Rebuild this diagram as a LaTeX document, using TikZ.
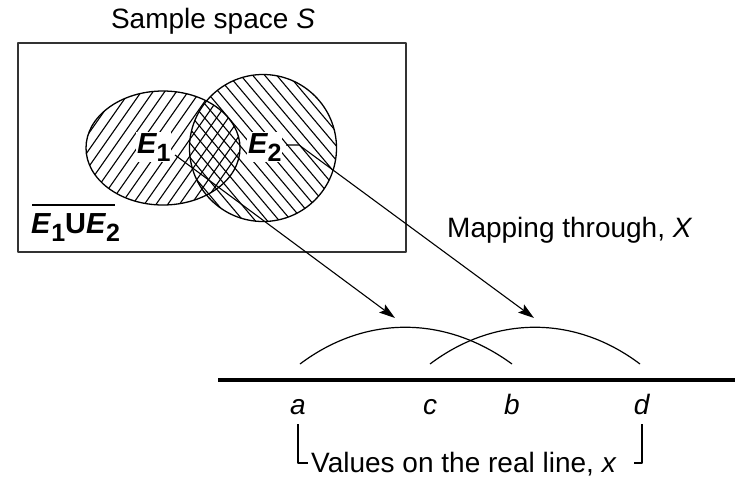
\documentclass[tikz,border=0pt]{standalone}
\usepackage{fontspec}
\setmainfont{Liberation Sans}
\usetikzlibrary{arrows.meta}
\newcommand{\evsub}[1]{\raisebox{-8pt}{\upshape\fontsize{25}{25}\selectfont #1}}
\begin{document}
\begin{tikzpicture}[x=1pt,y=-1pt, line join=round,
  lbl/.style={inner sep=0pt, font=\fontsize{28}{32}\selectfont},
  ev/.style={inner sep=1pt, fill=white, font=\fontsize{29}{32}\selectfont\bfseries\itshape},
  outline/.style={line width=1.3pt},
  hatch/.style={line width=1.1pt},
  maparrow/.style={line width=1.1pt, -{Stealth[length=16pt,width=10pt,inset=3pt]}},
  thin/.style={line width=1.2pt},
  ]
\useasboundingbox (0,0) rectangle (735,488);

% hatching E1
\begin{scope}
  \clip (163,148) ellipse [x radius=77pt, y radius=57pt];
  \foreach \x in {20,31.7,...,310} \draw[hatch] (\x-60,233.7) -- (\x+60,62.3);
\end{scope}
% hatching E2
\begin{scope}
  \clip (263,148) circle [radius=73.5pt];
  \foreach \x in {110,122,...,420} \draw[hatch] (\x-75,59) -- (\x+75,237);
\end{scope}
\draw[outline] (163,148) ellipse [x radius=77pt, y radius=57pt];
\draw[outline] (263,148) circle [radius=73.5pt];

% sample space box
\draw[line width=1.5pt, black!80] (18,43) rectangle (406,252);
\node[lbl, anchor=base] (title) at (213,28) {Sample space \textit{S}};

% event labels
\node[ev, anchor=base west] (e1) at (136,153) {E\evsub{1}};
\node[ev, anchor=base west] (e2) at (247,153) {E\evsub{2}};
\node[inner sep=0pt, anchor=base west, font=\fontsize{29}{32}\selectfont\bfseries] (comp) at (31,233)
  {\textit{E}\evsub{1}U\textit{E}\evsub{2}};
\draw[line width=1.5pt] (32,205) -- (115,205);

% mapping arrows
\coordinate (s1) at (175,155);
\coordinate (t1) at (395,318);
\coordinate (s2) at (286,145);
\coordinate (k2) at (299,145);
\coordinate (t2) at (534,318);
\draw[maparrow] (s1) -- (t1);
\draw[maparrow] (s2) -- (k2) -- (t2);
\node[lbl, anchor=base west] (map) at (447,237) {Mapping through, \textit{X}};

% real line
\coordinate (rl) at (218,380);
\coordinate (rr) at (735,380);
\draw[line width=4pt] (rl) -- (rr);

% arcs
\coordinate (a0) at (300,364);
\coordinate (b0) at (512,364);
\coordinate (c0) at (430,364);
\coordinate (d0) at (640,364);
\draw[thin] (a0) .. controls (365,315) and (445,315) .. (b0);
\draw[thin] (c0) .. controls (495,315) and (575,315) .. (d0);

% point labels
\node[lbl, anchor=base] (la) at (298,414) {\textit{a}};
\node[lbl, anchor=base] (lc) at (430,414) {\textit{c}};
\node[lbl, anchor=base] (lb) at (512,414) {\textit{b}};
\node[lbl, anchor=base] (ld) at (642,414) {\textit{d}};

% bracket and caption
\node[lbl, anchor=base west] (vals) at (311,472) {Values on the real line, \textit{x}};
\coordinate (bl) at (298,424);
\coordinate (blc) at (308,463);
\coordinate (br) at (642,424);
\coordinate (brc) at (634,463);
\draw[thin] (bl) |- (blc);
\draw[thin] (br) |- (brc);
\end{tikzpicture}
\end{document}
